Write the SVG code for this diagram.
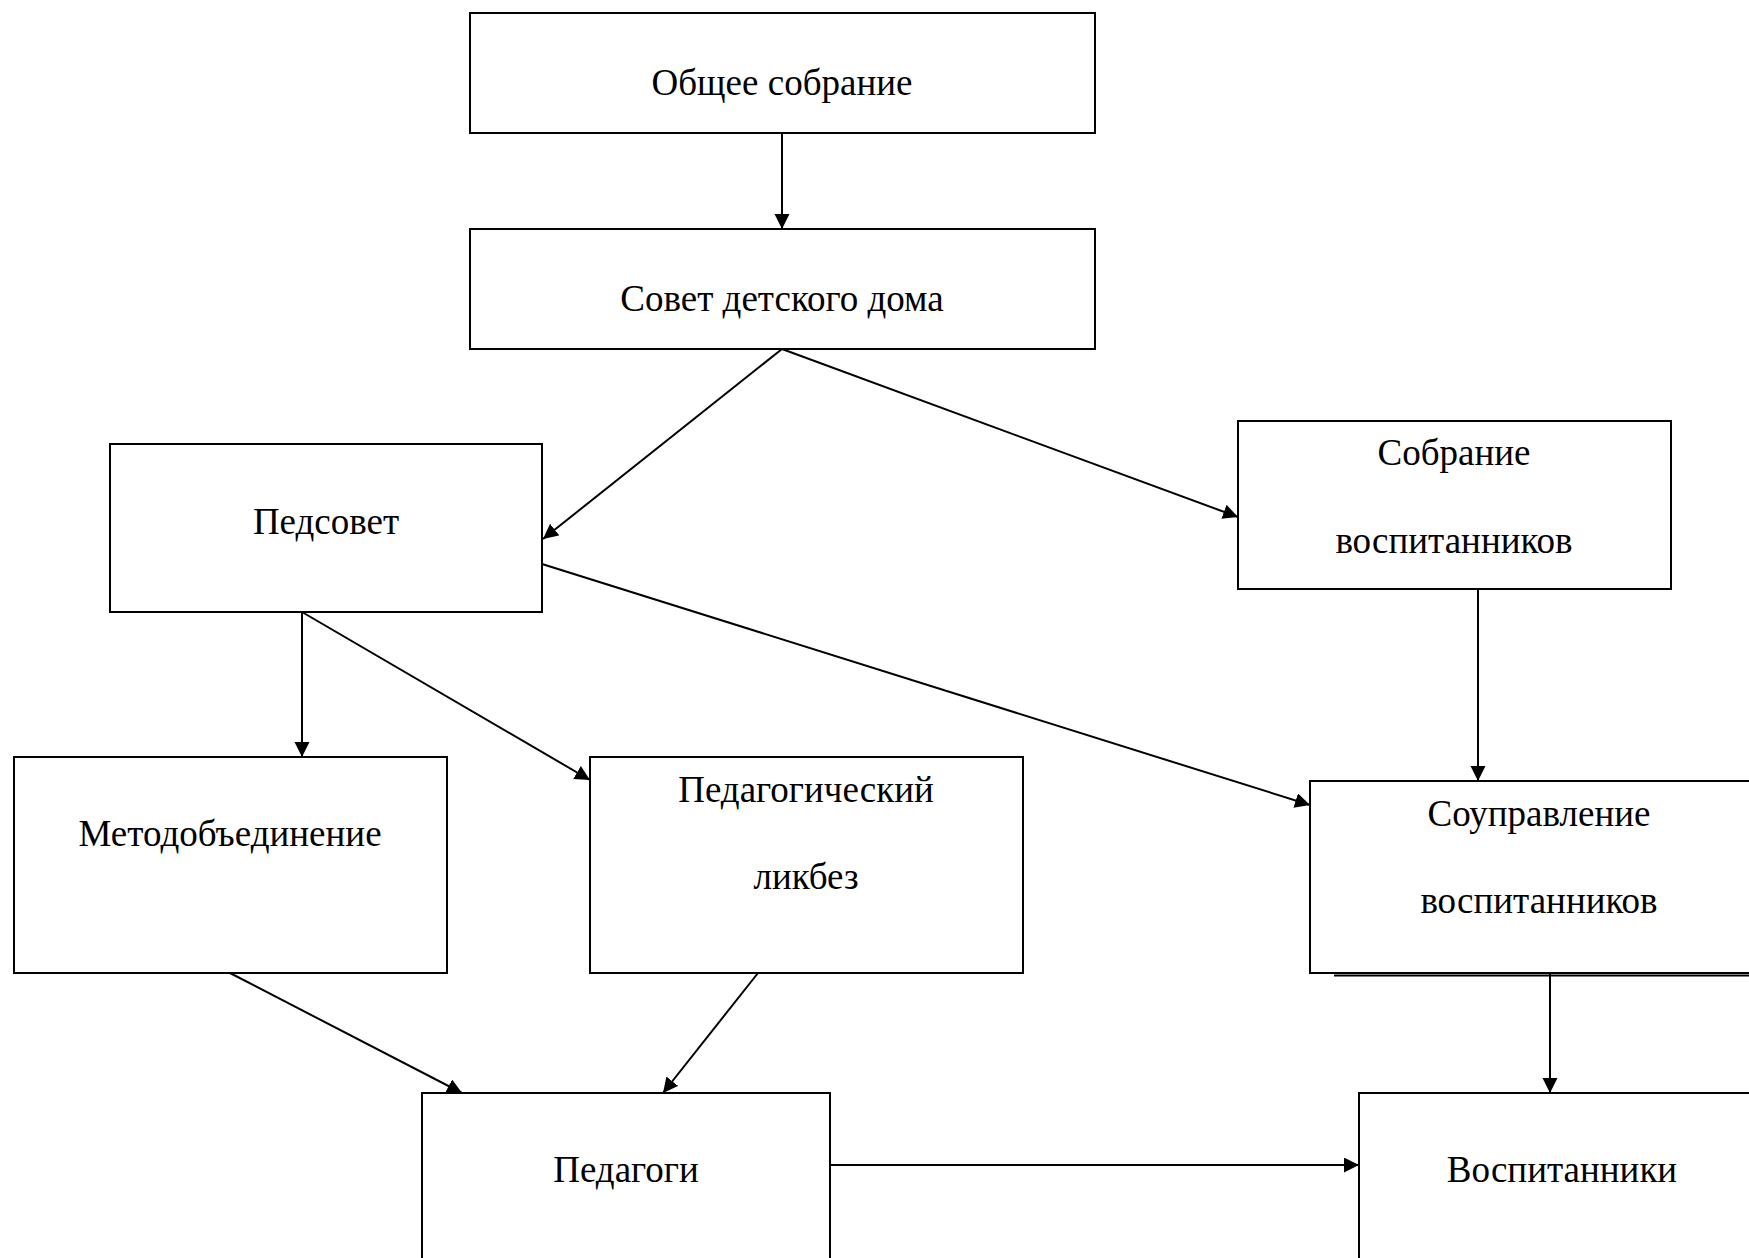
<svg xmlns="http://www.w3.org/2000/svg" width="1749" height="1258" viewBox="0 0 1749 1258">
<style>
.box{fill:#fff;stroke:#000;stroke-width:2}
.lbl{font-family:"Liberation Serif","Times New Roman",serif;font-size:37px;fill:#000;text-anchor:middle}
.conn line{stroke:#000;stroke-width:2;fill:none}
</style>
<defs>
<marker id="arr" markerUnits="userSpaceOnUse" markerWidth="16" markerHeight="16" viewBox="0 0 16 16" refX="15" refY="7.5" orient="auto">
<path d="M0,0 L15,7.5 L0,15 z" fill="#000"/>
</marker>
</defs>
<rect width="1749" height="1258" fill="#fff"/>
<g id="n-obshchee">
<rect class="box" x="470" y="13" width="625" height="120"/>
<text class="lbl" x="782" y="95">Общее собрание</text>
</g>
<g id="n-sovet">
<rect class="box" x="470" y="229" width="625" height="120"/>
<text class="lbl" x="782" y="311">Совет детского дома</text>
</g>
<g id="n-pedsovet">
<rect class="box" x="110" y="444" width="432" height="168"/>
<text class="lbl" x="326" y="534">Педсовет</text>
</g>
<g id="n-sobranie">
<rect class="box" x="1238" y="421" width="433" height="168"/>
<text class="lbl" x="1454" y="465">Собрание</text>
<text class="lbl" x="1454" y="553">воспитанников</text>
</g>
<g id="n-metod">
<rect class="box" x="14" y="757" width="433" height="216"/>
<text class="lbl" x="230" y="846">Методобъединение</text>
</g>
<g id="n-likbez">
<rect class="box" x="590" y="757" width="433" height="216"/>
<text class="lbl" x="806" y="802">Педагогический</text>
<text class="lbl" x="806" y="889">ликбез</text>
</g>
<g id="n-souprav">
<line x1="1334" y1="975.5" x2="1749" y2="975.5" stroke="#000" stroke-width="2"/>
<rect class="box" x="1310" y="781" width="460" height="192"/>
<text class="lbl" x="1539" y="826">Соуправление</text>
<text class="lbl" x="1539" y="913">воспитанников</text>
</g>
<g id="n-pedagogi">
<rect class="box" x="422" y="1093" width="408" height="200"/>
<text class="lbl" x="626" y="1182">Педагоги</text>
</g>
<g id="n-vospit">
<rect class="box" x="1359" y="1093" width="420" height="200"/>
<text class="lbl" x="1562" y="1182">Воспитанники</text>
</g>
<g id="connectors" class="conn">
<line x1="782" y1="133" x2="782" y2="229" marker-end="url(#arr)"/>
<line x1="782" y1="349" x2="543" y2="539" marker-end="url(#arr)"/>
<line x1="782" y1="349" x2="1238" y2="517" marker-end="url(#arr)"/>
<line x1="542" y1="564" x2="1310" y2="805" marker-end="url(#arr)"/>
<line x1="302" y1="612" x2="302" y2="757" marker-end="url(#arr)"/>
<line x1="302" y1="612" x2="590" y2="780" marker-end="url(#arr)"/>
<line x1="1478" y1="589" x2="1478" y2="781" marker-end="url(#arr)"/>
<line x1="230" y1="973" x2="462" y2="1093" marker-end="url(#arr)"/>
<line x1="758" y1="973" x2="663" y2="1093" marker-end="url(#arr)"/>
<line x1="1550" y1="974" x2="1550" y2="1093" marker-end="url(#arr)"/>
<line x1="830" y1="1165" x2="1359" y2="1165" marker-end="url(#arr)"/>
</g>
</svg>
